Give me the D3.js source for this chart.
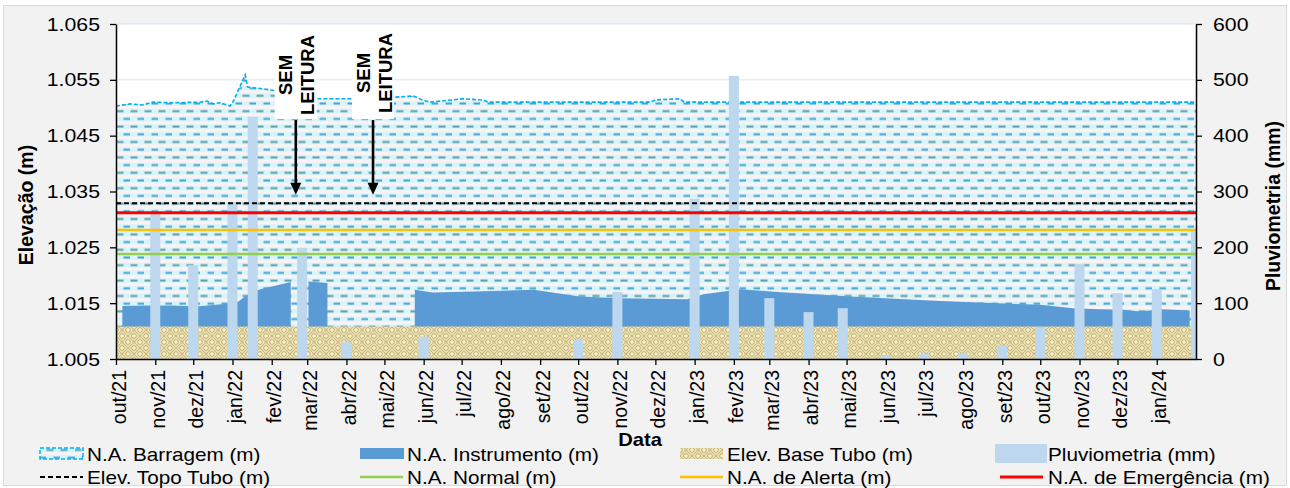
<!DOCTYPE html>
<html><head><meta charset="utf-8">
<script src="https://cdn.jsdelivr.net/npm/d3@7"></script>
<style>
body{margin:0;background:#fff;}
svg{display:block;font-family:"Liberation Sans",Arial,sans-serif;}
</style></head><body>
<svg id="c" width="1290" height="488"></svg>
<script>
// ---------------- DATA ----------------
const monthLabels = ["out/21","nov/21","dez/21","jan/22","fev/22","mar/22","abr/22","mai/22","jun/22","jul/22","ago/22","set/22","out/22","nov/22","dez/22","jan/23","fev/23","mar/23","abr/23","mai/23","jun/23","jul/23","ago/23","set/23","out/23","nov/23","dez/23","jan/24"];
const leftTicks = [1.005,1.015,1.025,1.035,1.045,1.055,1.065];
const rightTicks = [0,100,200,300,400,500,600];

const barragemDates = ["2021-10-01","2021-10-12","2021-10-22","2021-10-30","2021-11-15","2021-12-06","2021-12-12","2021-12-17","2021-12-22","2021-12-30","2022-01-02","2022-01-11","2022-01-13","2022-01-25","2022-02-05","2022-02-23","2022-03-10","2022-04-06","2022-05-09","2022-05-24","2022-05-31","2022-06-06","2022-07-02","2022-07-17","2022-07-23","2022-11-27","2022-12-01","2022-12-20","2022-12-24","2024-02-01"];
const barragemValues = [1.0503,1.0507,1.0505,1.0510,1.0509,1.0510,1.0512,1.0507,1.0509,1.0503,1.0513,1.0559,1.0537,1.0534,1.0530,1.0521,1.0516,1.0516,1.0519,1.0521,1.0514,1.0510,1.0516,1.0514,1.0510,1.0510,1.0514,1.0516,1.0510,1.0510];

const instrumentoDates = ["2021-10-06","2021-10-25","2021-11-15","2021-12-03","2021-12-28","2022-01-05","2022-01-15","2022-01-23","2022-02-16","2022-02-22","2022-03-02","2022-03-17","2022-04-20","2022-05-25","2022-06-08","2022-07-10","2022-08-27","2022-10-02","2022-11-03","2022-12-26","2023-01-08","2023-02-06","2023-03-02","2023-05-04","2023-07-14","2023-10-01","2023-10-27","2023-11-17","2023-12-05","2023-12-19","2024-01-04","2024-01-27"];
const instrumentoValues = [1.0145,1.0146,1.0146,1.0144,1.0149,1.0152,1.0168,1.0175,1.0188,null,1.0189,1.0186,null,1.0174,1.0169,1.0171,1.0174,1.0162,1.0159,1.0157,1.0166,1.0175,1.0171,1.0162,1.0154,1.0147,1.0141,1.0139,1.0138,1.0135,1.0139,1.0137];

const pluvioDates = ["2021-11-01","2021-12-01","2022-01-01","2022-01-17","2022-02-25","2022-04-01","2022-06-01","2022-10-01","2022-11-01","2023-01-01","2023-02-01","2023-03-01","2023-04-01","2023-04-28","2023-06-01","2023-07-01","2023-08-01","2023-09-01","2023-10-01","2023-11-01","2023-12-01","2024-01-01","2024-02-01"];
const pluvioValues = [262,168,281,434,199,30,40,34,120,287,507,109,84,91,7,9,10,25,56,170,118,125,229];

const baseTubo = 1.0108;
const topoTubo = 1.0329;
const naEmergencia = 1.0312;
const naAlerta = 1.0281;
const naNormal = 1.0238;

const semLeituraDates = ["2022-02-20","2022-04-22"];

// ---------------- SETUP ----------------
const parse = d3.utcParse("%Y-%m-%d");
const L = 116, R = 1196, T = 24, B = 359;
const SX = 1.12;
const svg = d3.select("#c");

const x = d3.scaleUtc().domain([parse("2021-10-01"), parse("2024-02-01")]).range([L, R]);
const y = d3.scaleLinear().domain([1.005, 1.065]).range([B, T]);
const y2 = d3.scaleLinear().domain([0, 600]).range([B, T]);

const defs = svg.append("defs");
// barragem pattern
const pb = defs.append("pattern").attr("id","pBarr").attr("patternUnits","userSpaceOnUse")
  .attr("width",14).attr("height",15.4).attr("x",L).attr("y",0);
pb.append("rect").attr("width",14).attr("height",15.4).attr("fill","#fcf2f4");
pb.append("rect").attr("y",1.0).attr("width",14).attr("height",4.6).attr("fill","#d4f6fb");
pb.append("rect").attr("y",8.7).attr("width",14).attr("height",4.6).attr("fill","#d8f5fb");
pb.append("rect").attr("x",0.5).attr("y",2.4).attr("width",7).attr("height",2).attr("fill","#5f9ca8");
pb.append("rect").attr("x",7.5).attr("y",10.1).attr("width",7).attr("height",2).attr("fill","#3fa5d8");
// weave pattern
const pw = defs.append("pattern").attr("id","pWeave").attr("patternUnits","userSpaceOnUse")
  .attr("width",12).attr("height",12).attr("x",L).attr("y",0);
pw.append("rect").attr("width",12).attr("height",12).attr("fill","#f7f0c6");
pw.append("path").attr("d","M0,0L6,6M0,3L3,6M3,0L6,3 M6,6L12,0M6,3L9,0M9,6L12,3 M0,12L6,6M0,9L3,6M3,12L6,9 M6,6L12,12M6,9L9,12M9,6L12,9")
  .attr("stroke","#c8b67e").attr("stroke-width",1.1).attr("fill","none");

defs.append("clipPath").attr("id","clipPlot").append("rect")
  .attr("x",L).attr("y",T).attr("width",R-L).attr("height",B-T);

// background
svg.append("rect").attr("x",3.5).attr("y",5.5).attr("width",1283).attr("height",480)
  .attr("fill","#f2f2f2").attr("stroke","#d9d9d9");
svg.append("rect").attr("x",L).attr("y",T).attr("width",R-L).attr("height",B-T).attr("fill","#fff");

// gridlines
svg.append("g").selectAll("line").data(leftTicks).join("line")
  .attr("x1",L).attr("x2",R).attr("y1",d=>y(d)).attr("y2",d=>y(d))
  .attr("stroke","#d6e4f2").attr("stroke-width",1);

const plot = svg.append("g").attr("clip-path","url(#clipPlot)");

// barragem area
const barr = barragemDates.map((d,i)=>({d:parse(d), v:barragemValues[i]}));
plot.append("path").datum(barr)
  .attr("d", d3.area().x(p=>x(p.d)).y0(y(1.005)).y1(p=>y(p.v)))
  .attr("fill","url(#pBarr)");
plot.append("path").datum(barr)
  .attr("d", d3.line().x(p=>x(p.d)).y(p=>y(p.v)))
  .attr("fill","none").attr("stroke","#00b0f0").attr("stroke-width",1.6).attr("stroke-dasharray","4,2");

// instrumento area
const inst = instrumentoDates.map((d,i)=>({d:parse(d), v:instrumentoValues[i]}));
plot.append("path").datum(inst)
  .attr("d", d3.area().defined(p=>p.v!=null).x(p=>x(p.d)).y0(y(1.005)).y1(p=>y(p.v)))
  .attr("fill","#5b9bd5");

// base tubo area
const baseData = [x.domain()[0], x.domain()[1]];
plot.append("path").datum(baseData)
  .attr("d", d3.area().x(d=>x(d)).y0(y(1.005)).y1(y(baseTubo)))
  .attr("fill","url(#pWeave)");

// pluviometria bars
const bw = 10;
plot.append("g").selectAll("rect").data(pluvioDates.map((d,i)=>({d:parse(d), v:pluvioValues[i]}))).join("rect")
  .attr("x",p=>x(p.d)-bw/2).attr("width",bw)
  .attr("y",p=>y2(p.v)).attr("height",p=>y2(0)-y2(p.v))
  .attr("fill","#bdd7ee");

// threshold lines
const hl = [
  {v:naNormal, c:"#92d050", w:2.5, dash:null},
  {v:naAlerta, c:"#ffc000", w:2.5, dash:null},
  {v:naEmergencia, c:"#ff0000", w:3, dash:null},
  {v:topoTubo, c:"#000", w:2, dash:"5,3"}
];
plot.append("g").selectAll("line").data(hl).join("line")
  .attr("x1",L).attr("x2",R).attr("y1",d=>y(d.v)).attr("y2",d=>y(d.v))
  .attr("stroke",d=>d.c).attr("stroke-width",d=>d.w).attr("stroke-dasharray",d=>d.dash);

// SEM LEITURA annotations
semLeituraDates.forEach((ds,i)=>{
  const cx = x(parse(ds));
  const g = svg.append("g");
  g.append("rect").attr("x",cx-21).attr("y",30).attr("width",42).attr("height",89).attr("fill","#fff");
  const cy = 75 - i*2;
  g.append("text").attr("transform",`translate(${cx-10},${cy}) rotate(-90)`)
    .attr("text-anchor","middle").attr("dy","0.36em")
    .style("font-weight","bold").style("font-size","18.5px").text("SEM");
  g.append("text").attr("transform",`translate(${cx+12},${cy}) rotate(-90)`)
    .attr("text-anchor","middle").attr("dy","0.36em")
    .style("font-weight","bold").style("font-size","18.5px").text("LEITURA");
  const yTop = y(1.0478), yTip = y(1.0344);
  g.append("line").attr("x1",cx).attr("x2",cx).attr("y1",yTop).attr("y2",yTip-8)
    .attr("stroke","#000").attr("stroke-width",2.6);
  g.append("path").attr("d",`M${cx-5.5},${yTip-12}L${cx+5.5},${yTip-12}L${cx},${yTip}Z`).attr("fill","#000");
});

// axes
function styleAxis(g){
  g.select(".domain").attr("stroke","#000").attr("stroke-width",1.5);
  g.selectAll(".tick line").attr("stroke","#000").attr("stroke-width",1.3);
  g.selectAll("text").attr("fill","#000").style("font-size","19px").style("font-family",'"Liberation Sans",Arial,sans-serif');
}
const gl = svg.append("g").attr("transform",`translate(${L},0)`)
  .call(d3.axisLeft(y).tickValues(leftTicks).tickFormat(d3.format(".3f")).tickSize(6).tickPadding(10).tickSizeOuter(0));
styleAxis(gl);
gl.selectAll("text").attr("transform",function(){const xx=+this.getAttribute("x");return `translate(${xx},0) scale(${SX},1)`;}).attr("x",0);

const gr = svg.append("g").attr("transform",`translate(${R},0)`)
  .call(d3.axisRight(y2).tickValues(rightTicks).tickSize(6).tickPadding(11).tickSizeOuter(0));
styleAxis(gr);
gr.selectAll("text").attr("transform",function(){const xx=+this.getAttribute("x");return `translate(${xx},0) scale(${SX},1)`;}).attr("x",0);

const tickDates = d3.utcMonth.range(parse("2021-10-01"), parse("2024-02-01"));
const gx = svg.append("g").attr("transform",`translate(0,${B})`)
  .call(d3.axisBottom(x).tickValues(tickDates).tickFormat((d,i)=>monthLabels[i]).tickSize(6).tickSizeOuter(0));
styleAxis(gx);
gx.selectAll(".tick text").attr("y",null).attr("dy",null)
  .attr("text-anchor","end").attr("dominant-baseline","central")
  .attr("transform","translate(2,11) rotate(-90)").style("font-size","19.5px");

// axis titles
svg.append("text").attr("transform","translate(26,205) rotate(-90)").attr("text-anchor","middle")
  .attr("dominant-baseline","central").style("font-weight","bold").style("font-size","19.5px").text("Elevação (m)");
svg.append("text").attr("transform","translate(1273,206) rotate(-90)").attr("text-anchor","middle")
  .attr("dominant-baseline","central").style("font-weight","bold").style("font-size","19.5px").text("Pluviometria (mm)");
svg.append("text").attr("transform",`translate(640,446) scale(${SX},1)`).attr("text-anchor","middle")
  .style("font-weight","bold").style("font-size","18px").text("Data");

// legend
const leg = svg.append("g");
const colsX = [40, 360, 680, 1000];
const row1 = 454, row2 = 477;
function legText(xx, yy, t){
  leg.append("text").attr("transform",`translate(${xx},${yy+6.5}) scale(${SX+0.03},1)`)
    .style("font-size","18px").attr("fill","#000").text(t);
}
leg.append("rect").attr("x",colsX[0]).attr("y",row1-6).attr("width",43).attr("height",11)
  .attr("fill","url(#pBarr)").attr("stroke","#00b0f0").attr("stroke-width",1.5).attr("stroke-dasharray","4,2");
legText(colsX[0]+47,row1,"N.A. Barragem (m)");
leg.append("rect").attr("x",colsX[1]).attr("y",row1-6).attr("width",44).attr("height",11).attr("fill","#5b9bd5");
legText(colsX[1]+47,row1,"N.A. Instrumento (m)");
leg.append("rect").attr("x",colsX[2]).attr("y",row1-6).attr("width",43).attr("height",11).attr("fill","url(#pWeave)");
legText(colsX[2]+47,row1,"Elev. Base Tubo (m)");
leg.append("rect").attr("x",colsX[3]-5).attr("y",row1-10).attr("width",52).attr("height",19).attr("fill","#bdd7ee");
legText(colsX[3]+48,row1,"Pluviometria (mm)");

const lineLeg = [
  {t:"Elev. Topo Tubo (m)", c:"#000", w:2, dash:"5,3"},
  {t:"N.A. Normal (m)", c:"#92d050", w:2.5, dash:null},
  {t:"N.A. de Alerta (m)", c:"#ffc000", w:2.5, dash:null},
  {t:"N.A. de Emergência (m)", c:"#ff0000", w:3, dash:null}
];
lineLeg.forEach((d,i)=>{
  leg.append("line").attr("x1",colsX[i]).attr("x2",colsX[i]+43).attr("y1",row2).attr("y2",row2)
    .attr("stroke",d.c).attr("stroke-width",d.w).attr("stroke-dasharray",d.dash);
  legText(colsX[i]+47+(i===3?1:0),row2,d.t);
});
</script>
</body></html>
